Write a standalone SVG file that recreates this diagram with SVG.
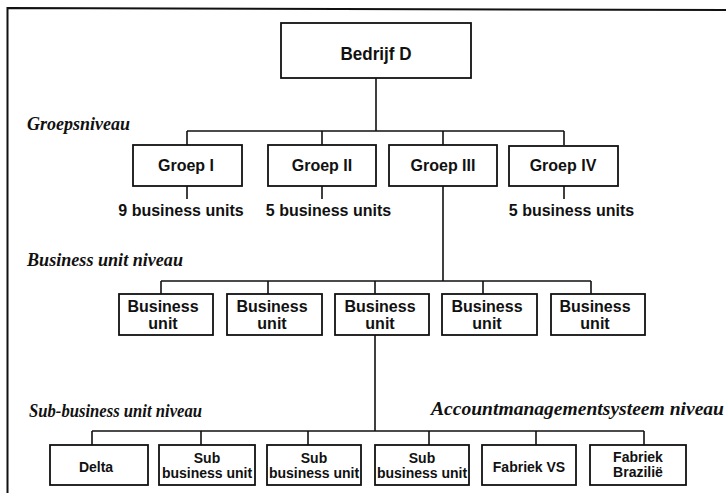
<svg xmlns="http://www.w3.org/2000/svg" width="726" height="493" viewBox="0 0 726 493">
  <style>
    .box { fill: #fff; stroke: #111; stroke-width: 1.8; }
    .wire { fill: none; stroke: #111; stroke-width: 1.6; }
    .frame { fill: none; stroke: #111; stroke-width: 2; }
    .lbl { font-family: "Liberation Sans", Arial, sans-serif; font-weight: bold; fill: #111; text-anchor: middle; }
    .big { font-size: 19px; }
    .mid { font-size: 16px; }
    .sm { font-size: 14px; }
    .lvl { font-family: "Liberation Serif", "Times New Roman", serif; font-style: italic; font-weight: bold; font-size: 18.5px; fill: #111; }
  </style>

  <!-- page frame -->
  <polyline class="frame" points="7.5,493 7.5,8 726,10"/>

  <!-- level captions -->
  <text class="lvl" x="27" y="130" textLength="103" lengthAdjust="spacingAndGlyphs">Groepsniveau</text>
  <text class="lvl" x="27" y="266" textLength="156" lengthAdjust="spacingAndGlyphs">Business unit niveau</text>
  <text class="lvl" x="29" y="417" textLength="173" lengthAdjust="spacingAndGlyphs">Sub-business unit niveau</text>
  <text class="lvl" x="431" y="415" textLength="293" lengthAdjust="spacingAndGlyphs">Accountmanagementsysteem niveau</text>

  <!-- connectors -->
  <g id="connectors">
    <path class="wire" d="M376,78 V131 M187,131 H564 M187,131 V145 M322,131 V145 M443,131 V145 M564,131 V145"/>
    <path class="wire" d="M187,186 V199 M322,186 V199 M564,186 V199"/>
    <path class="wire" d="M443,186 V281 M161,281 H591 M161,281 V294 M268,281 V294 M375,281 V294 M483,281 V294 M591,281 V294"/>
    <path class="wire" d="M375,335 V431 M92,431 H644 M92,431 V445 M201,431 V445 M308,431 V445 M429,431 V445 M536,431 V445 M644,431 V445"/>
  </g>

  <!-- top -->
  <g id="bedrijf-d">
    <rect class="box" x="281" y="23" width="190" height="55"/>
    <text class="lbl big" x="376" y="60" textLength="71" lengthAdjust="spacingAndGlyphs">Bedrijf D</text>
  </g>

  <!-- groups -->
  <g id="groep-1">
    <rect class="box" x="133" y="145" width="109" height="41"/>
    <text class="lbl mid" x="186" y="171">Groep I</text>
    <text class="lbl mid" x="181" y="216">9 business units</text>
  </g>
  <g id="groep-2">
    <rect class="box" x="268" y="145" width="108" height="41"/>
    <text class="lbl mid" x="322" y="171">Groep II</text>
    <text class="lbl mid" x="328.5" y="216">5 business units</text>
  </g>
  <g id="groep-3">
    <rect class="box" x="389" y="145" width="108" height="41"/>
    <text class="lbl mid" x="443" y="171">Groep III</text>
  </g>
  <g id="groep-4">
    <rect class="box" x="509" y="146" width="109" height="40"/>
    <text class="lbl mid" x="563" y="171">Groep IV</text>
    <text class="lbl mid" x="571.5" y="216">5 business units</text>
  </g>

  <!-- business units -->
  <g id="bu-1">
    <rect class="box" x="119" y="294" width="94" height="41"/>
    <text class="lbl mid" x="163" y="312">Business</text>
    <text class="lbl mid" x="163" y="329">unit</text>
  </g>
  <g id="bu-2">
    <rect class="box" x="227" y="294" width="95" height="41"/>
    <text class="lbl mid" x="272" y="312">Business</text>
    <text class="lbl mid" x="272" y="329">unit</text>
  </g>
  <g id="bu-3">
    <rect class="box" x="335" y="294" width="94" height="41"/>
    <text class="lbl mid" x="380" y="312">Business</text>
    <text class="lbl mid" x="380" y="329">unit</text>
  </g>
  <g id="bu-4">
    <rect class="box" x="442" y="294" width="95" height="41"/>
    <text class="lbl mid" x="487" y="312">Business</text>
    <text class="lbl mid" x="487" y="329">unit</text>
  </g>
  <g id="bu-5">
    <rect class="box" x="551" y="294" width="94" height="41"/>
    <text class="lbl mid" x="595" y="312">Business</text>
    <text class="lbl mid" x="595" y="329">unit</text>
  </g>

  <!-- sub business units -->
  <g id="sub-delta">
    <rect class="box" x="50" y="445" width="98" height="40"/>
    <text class="lbl sm" x="96" y="472">Delta</text>
  </g>
  <g id="sub-1">
    <rect class="box" x="159" y="445" width="96" height="40"/>
    <text class="lbl sm" x="207" y="463">Sub</text>
    <text class="lbl sm" x="207" y="478">business unit</text>
  </g>
  <g id="sub-2">
    <rect class="box" x="267" y="445" width="94" height="40"/>
    <text class="lbl sm" x="314" y="463">Sub</text>
    <text class="lbl sm" x="314" y="478">business unit</text>
  </g>
  <g id="sub-3">
    <rect class="box" x="375" y="445" width="94" height="40"/>
    <text class="lbl sm" x="422" y="463">Sub</text>
    <text class="lbl sm" x="422" y="478">business unit</text>
  </g>
  <g id="fabriek-vs">
    <rect class="box" x="482" y="445" width="94" height="40"/>
    <text class="lbl sm" x="529" y="472">Fabriek VS</text>
  </g>
  <g id="fabriek-brazilie">
    <rect class="box" x="590" y="445" width="96" height="40"/>
    <text class="lbl sm" x="638" y="462">Fabriek</text>
    <text class="lbl sm" x="638" y="477">Brazilië</text>
  </g>
</svg>
